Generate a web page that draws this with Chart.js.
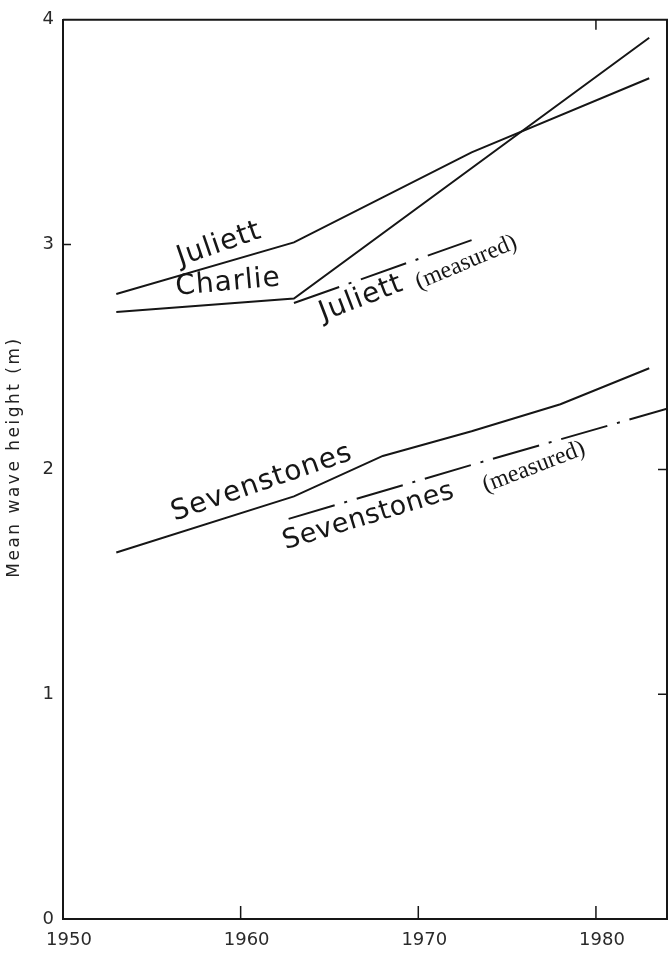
<!DOCTYPE html>
<html>
<head>
<meta charset="utf-8">
<script src="https://cdn.jsdelivr.net/npm/chart.js@4"></script>
<style>
  html, body { margin: 0; padding: 0; background: #fff; }
  #wrap { width: 671px; height: 955px; }
</style>
</head>
<body>
<div id="wrap"><canvas id="c" width="671" height="955"></canvas></div>
<script>
// Tick values
const xTicks = [1950, 1960, 1970, 1980];
const yTicks = [0, 1, 2, 3, 4];

// Mean wave height (m) by year
const juliettYears = [1953, 1963, 1973, 1983];
const juliettWave = [2.78, 3.01, 3.41, 3.74];

const charlieYears = [1953, 1963, 1983];
const charlieWave = [2.70, 2.76, 3.92];

const juliettMeasYears = [1963, 1973];
const juliettMeasWave = [2.74, 3.02];

const sevenYears = [1953, 1963, 1968, 1973, 1978, 1983];
const sevenWave = [1.63, 1.88, 2.06, 2.17, 2.29, 2.45];

const sevenMeasYears = [1962.7, 1973, 1984];
const sevenMeasWave = [1.78, 2.02, 2.27];

const INK = '#161616';
const pts = (xs, ys) => xs.map((x, i) => ({ x: x, y: ys[i] }));

// In-plot series names, placed in data coordinates
const seriesLabels = [
  { text: 'Juliett',     x: 1958.8, y: 3.00, angle: -19, font: '28px "DejaVu Sans"', spacing: '1px' },
  { text: 'Charlie',     x: 1959.3, y: 2.83, angle: -5,  font: '28px "DejaVu Sans"', spacing: '1px' },
  { text: 'Juliett',     x: 1966.8, y: 2.76, angle: -21, font: '28px "DejaVu Sans"', spacing: '1px' },
  { text: '(measured)',  x: 1972.7, y: 2.92, angle: -23, font: '24px "Liberation Serif"', spacing: '0px' },
  { text: 'Sevenstones', x: 1961.2, y: 1.94, angle: -19, font: '28px "DejaVu Sans"', spacing: '1px' },
  { text: 'Sevenstones', x: 1967.2, y: 1.79, angle: -17, font: '27px "DejaVu Sans"', spacing: '0.5px' },
  { text: '(measured)',  x: 1976.5, y: 2.01, angle: -21, font: '24px "Liberation Serif"', spacing: '0px' }
];

const frameAndLabels = {
  id: 'frameAndLabels',
  afterDatasetsDraw(chart) {
    const { ctx, chartArea: a, scales: { x, y } } = chart;
    ctx.save();
    ctx.strokeStyle = INK;
    ctx.lineWidth = 2;
    // top and right edges of the box
    ctx.beginPath();
    ctx.moveTo(a.left, a.top);
    ctx.lineTo(a.right, a.top);
    ctx.lineTo(a.right, a.bottom);
    ctx.stroke();
    // inward tick marks
    ctx.lineWidth = 1.5;
    ctx.beginPath();
    xTicks.slice(1).forEach(v => {
      const px = x.getPixelForValue(v);
      ctx.moveTo(px, a.bottom);
      ctx.lineTo(px, a.bottom - 13);
    });
    const tx = x.getPixelForValue(1980);
    ctx.moveTo(tx, a.top);
    ctx.lineTo(tx, a.top + 10);
    const ly = y.getPixelForValue(3);
    ctx.moveTo(a.left, ly);
    ctx.lineTo(a.left + 8, ly);
    [1, 2].forEach(v => {
      const py = y.getPixelForValue(v);
      ctx.moveTo(a.right, py);
      ctx.lineTo(a.right - 9, py);
    });
    ctx.stroke();
    // series names
    ctx.fillStyle = INK;
    ctx.textAlign = 'center';
    ctx.textBaseline = 'middle';
    seriesLabels.forEach(l => {
      ctx.save();
      ctx.translate(x.getPixelForValue(l.x), y.getPixelForValue(l.y));
      ctx.rotate(l.angle * Math.PI / 180);
      ctx.font = l.font;
      ctx.letterSpacing = l.spacing;
      ctx.fillText(l.text, 0, 0);
      ctx.restore();
    });
    // y axis title
    ctx.save();
    ctx.fillStyle = '#222';
    ctx.translate(15, 457);
    ctx.rotate(-Math.PI / 2);
    ctx.font = '17px "DejaVu Sans"';
    ctx.letterSpacing = '2.5px';
    ctx.fillText('Mean wave height (m)', 0, 0);
    ctx.restore();
    ctx.restore();
  }
};

const solid = { borderColor: INK, borderWidth: 2, pointRadius: 0, tension: 0, fill: false };
const dashed = Object.assign({}, solid, { borderDash: [48, 10, 3, 10] });

new Chart(document.getElementById('c'), {
  type: 'line',
  data: {
    datasets: [
      Object.assign({ label: 'Juliett', data: pts(juliettYears, juliettWave) }, solid),
      Object.assign({ label: 'Charlie', data: pts(charlieYears, charlieWave) }, solid),
      Object.assign({ label: 'Juliett (measured)', data: pts(juliettMeasYears, juliettMeasWave) }, dashed),
      Object.assign({ label: 'Sevenstones', data: pts(sevenYears, sevenWave) }, solid),
      Object.assign({ label: 'Sevenstones (measured)', data: pts(sevenMeasYears, sevenMeasWave) }, dashed)
    ]
  },
  options: {
    responsive: false,
    devicePixelRatio: 1,
    animation: false,
    layout: { padding: { top: 18, right: 4, left: 0, bottom: 0 } },
    plugins: { legend: { display: false }, tooltip: { enabled: false } },
    scales: {
      x: {
        type: 'linear',
        min: 1950,
        max: 1984,
        afterBuildTicks: s => { s.ticks = xTicks.map(v => ({ value: v })); },
        afterFit: s => { s.height = 36; },
        grid: { drawOnChartArea: false, drawTicks: false },
        border: { display: true, color: INK, width: 2 },
        ticks: { color: '#2a2a2a', font: { family: 'DejaVu Sans', size: 18 }, padding: 11, labelOffset: 6, maxRotation: 0, callback: v => String(v) }
      },
      y: {
        type: 'linear',
        min: 0,
        max: 4,
        afterBuildTicks: s => { s.ticks = yTicks.map(v => ({ value: v })); },
        afterFit: s => { s.width = 63; },
        grid: { drawOnChartArea: false, drawTicks: false },
        border: { display: true, color: INK, width: 2 },
        ticks: { color: '#2a2a2a', font: { family: 'DejaVu Sans', size: 18 }, padding: 9 }
      }
    }
  },
  plugins: [frameAndLabels]
});
</script>
</body>
</html>
